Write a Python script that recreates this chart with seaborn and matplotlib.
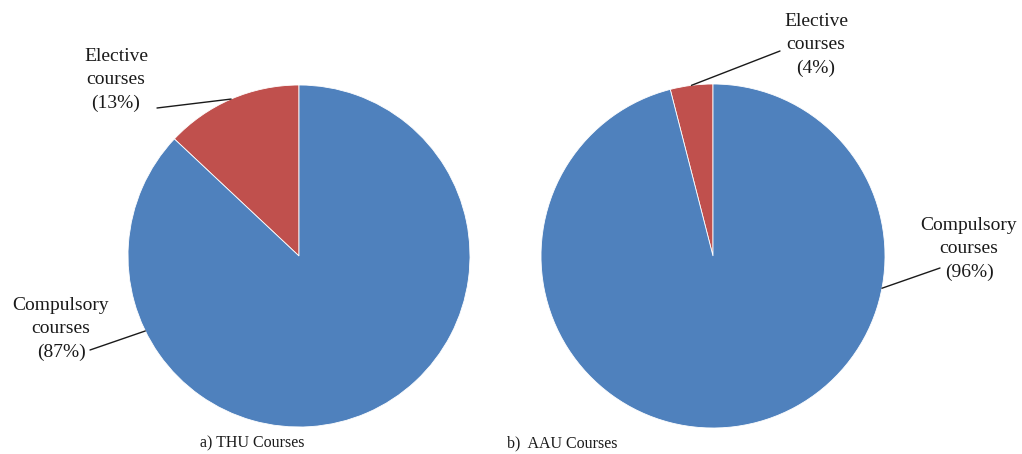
import numpy as np
import matplotlib
matplotlib.use('Agg')
import matplotlib.pyplot as plt
import seaborn as sns

sns.set_style('white')
plt.rcParams['font.family'] = ['Liberation Serif', 'DejaVu Serif']

# data
categories = ['Elective\ncourses', 'Compulsory\ncourses']
thu_share = [13, 87]
aau_share = [4, 96]
titles = ['a) THU Courses', 'b)  AAU Courses']
colors = ['#C0504D', '#4F81BD']

W, H = 1022, 454
fig = plt.figure(figsize=(W / 100, H / 100), dpi=100)

# pie placement in pixels: centre x, centre y, radius
pies = [(299, 256, 171), (713, 256, 172)]
# label block centres (pixels) and leader line start, end angle on the rim
label_pos = [
    [((116, 80), (157, 108), None), ((61, 329), (90, 350), 206.0)],
    [((816, 45), (780, 51), None), ((969, 249), (940, 268), -10.8)],
]
title_pos = [(252, 443), (562, 443)]


def px2data(px, py, cx, cy, r):
    return (px - cx) / r, (cy - py) / r


for i, shares in enumerate([thu_share, aau_share]):
    cx, cy, r = pies[i]
    ax = fig.add_axes([(cx - r) / W, (H - cy - r) / H, 2 * r / W, 2 * r / H])
    wedges, _ = ax.pie(shares, colors=colors, startangle=90, counterclock=True,
                       radius=1, wedgeprops=dict(edgecolor='white', linewidth=0.6))
    ax.set_xlim(-1, 1)
    ax.set_ylim(-1, 1)
    ax.set_aspect('auto')
    ax.axis('off')

    for j, (txt, start, ang) in enumerate(label_pos[i]):
        w = wedges[j]
        if ang is None:
            ang = (w.theta1 + w.theta2) / 2
        tx, ty = px2data(txt[0], txt[1], cx, cy, r)
        ax.text(tx, ty, f'{categories[j]}\n({shares[j]}%)', ha='center', va='center',
                multialignment='center', fontsize=14, color='#1a1a1a', linespacing=1.45)
        sx, sy = px2data(start[0], start[1], cx, cy, r)
        ex, ey = np.cos(np.radians(ang)), np.sin(np.radians(ang))
        ax.plot([sx, ex], [sy, ey], color='#1a1a1a', lw=1.0, clip_on=False)

    fig.text(title_pos[i][0] / W, 1 - title_pos[i][1] / H, titles[i],
             ha='center', va='center', fontsize=11.5, color='#1a1a1a')

fig.savefig('out.png', dpi=100, facecolor='white')
